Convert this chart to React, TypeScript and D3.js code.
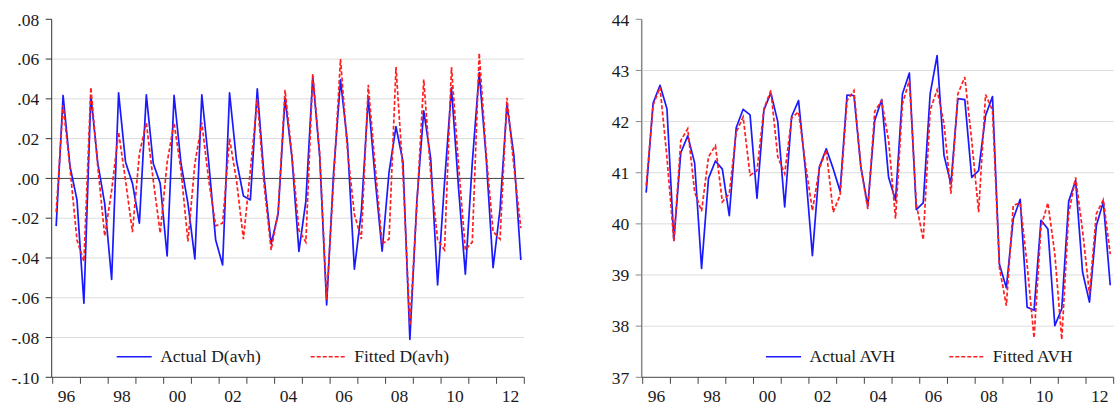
import React from "react";
import * as d3 from "d3";

// quarterly, 1996Q1 .. 2012Q4
const years = d3.range(1996, 2014);
const yearLabels = ["96", "98", "00", "02", "04", "06", "08", "10", "12"];

const actualD = [
  -0.024, 0.0417, 0.006, -0.0108, -0.0628, 0.0417, 0.0077, -0.0127, -0.0508,
  0.043, 0.0083, -0.0025, -0.0225, 0.042, 0.0075, -0.0025, -0.039, 0.0417,
  0.0075, -0.0125, -0.0405, 0.042, 0.008, -0.031, -0.0435, 0.043, 0.009,
  -0.0088, -0.0108, 0.045, 0.0, -0.033, -0.018, 0.0405, 0.0105, -0.0367,
  -0.0115, 0.0512, 0.011, -0.0636, 0.0028, 0.0495, 0.018, -0.0456, -0.017,
  0.0405, -0.0005, -0.0366, 0.0032, 0.026, 0.0085, -0.081, -0.012, 0.034,
  0.0102, -0.0536, -0.002, 0.0455, -0.004, -0.0482, 0.008, 0.0532, 0.0105,
  -0.0449, -0.0155, 0.0372, 0.0115, -0.041,
];

const fittedD = [
  -0.017, 0.0367, 0.005, -0.031, -0.0417, 0.0458, 0.006, -0.029, -0.006,
  0.0233, -0.001, -0.027, 0.0125, 0.028, -0.001, -0.0275, 0.008, 0.028,
  0.004, -0.0317, 0.0075, 0.028, -0.001, -0.0238, -0.0225, 0.02, -0.001,
  -0.0305, 0.004, 0.04, -0.004, -0.036, -0.017, 0.0445, 0.0117, -0.026,
  -0.032, 0.0525, 0.0125, -0.061, -0.001, 0.06, 0.014, -0.018, -0.0305,
  0.047, 0.006, -0.033, -0.0305, 0.056, 0.0025, -0.074, -0.014, 0.0497,
  0.0025, -0.031, -0.036, 0.056, 0.0075, -0.036, -0.032, 0.063, 0.0125,
  -0.0267, -0.0305, 0.0405, 0.006, -0.025,
];

const actualAVH = [
  40.61, 42.36, 42.71, 42.25, 39.68, 41.39, 41.72, 41.19, 39.13, 40.89, 41.23,
  41.07, 40.16, 41.88, 42.24, 42.13, 40.5, 42.23, 42.56, 42.0, 40.33, 42.1,
  42.41, 41.05, 39.38, 41.11, 41.47, 41.08, 40.64, 42.52, 42.51, 41.11, 40.34,
  42.02, 42.43, 40.91, 40.46, 42.54, 42.95, 40.28, 40.41, 42.54, 43.29, 41.34,
  40.78, 42.45, 42.43, 40.91, 41.04, 42.12, 42.49, 39.21, 38.75, 40.1, 40.48,
  38.37, 38.31, 40.07, 39.9, 38.01, 38.34, 40.44, 40.85, 39.06, 38.47, 39.97,
  40.43, 38.8,
];

const fittedAVH = [
  40.75, 42.32, 42.67, 41.3, 39.66, 41.63, 41.86, 40.62, 40.25, 41.31, 41.53,
  40.43, 40.59, 41.79, 42.09, 40.95, 41.04, 42.25, 42.61, 41.31, 40.98, 42.07,
  42.19, 41.17, 40.26, 41.08, 41.44, 40.23, 40.56, 42.41, 42.61, 41.11, 40.29,
  42.2, 42.41, 41.63, 40.1, 42.35, 42.8, 40.39, 39.69, 42.22, 42.62, 41.96,
  40.59, 42.54, 42.87, 41.63, 40.23, 42.53, 42.22, 39.15, 38.4, 40.36, 40.41,
  39.2, 37.77, 39.94, 40.41, 39.41, 37.74, 40.2, 40.91, 39.87, 38.63, 40.2,
  40.47, 39.41,
];

const dTicks = [0.08, 0.06, 0.04, 0.02, 0, -0.02, -0.04, -0.06, -0.08, -0.1];
const dTickLabels = [".08", ".06", ".04", ".02", ".00", "-.02", "-.04", "-.06", "-.08", "-.10"];
const avhTicks = [44, 43, 42, 41, 40, 39, 38, 37];
const avhTickLabels = ["44", "43", "42", "41", "40", "39", "38", "37"];

const FONT = "'Liberation Serif', 'Times New Roman', Times, serif";
const FS = 17.5;
const BLUE = "#1a1aff";
const RED = "#ff1f1f";
const top = 19.3;
const bottom = 377.3;

type PanelProps = {
  left: number;
  right: number;
  domain: [number, number];
  ticks: number[];
  tickLabels: string[];
  actual: number[];
  fitted: number[];
  actualName: string;
  fittedName: string;
  zeroLine?: boolean;
  axisColor: string;
  axisWidth: number;
  legendX: number[];
};

const Panel = (p: PanelProps) => {
  const n = p.actual.length;
  const x = d3.scaleLinear().domain([0, n]).range([p.left, p.right]);
  const y = d3.scaleLinear().domain(p.domain).range([bottom, top]);
  const line = d3
    .line<number>()
    .x((_, i) => x(i + 0.5))
    .y((d) => y(d));
  const ax = p.left - 1;
  const legendY = 356.7;

  return (
    <g>
      {/* grid */}
      {p.ticks.map((t, i) =>
        i === 0 || i === p.ticks.length - 1 ? null : (
          <line
            key={"g" + i}
            x1={ax}
            x2={p.right}
            y1={y(t)}
            y2={y(t)}
            stroke={p.zeroLine && t === 0 ? "#444" : "#dcdcdc"}
            strokeWidth={1}
          />
        )
      )}
      {/* y axis */}
      <line x1={ax} x2={ax} y1={top} y2={bottom} stroke={p.axisColor} strokeWidth={p.axisWidth} />
      {p.ticks.map((t, i) => (
        <g key={"t" + i}>
          <line x1={ax - 6} x2={ax} y1={y(t)} y2={y(t)} stroke={p.axisColor} strokeWidth={1} />
          <text
            x={ax - 12.5}
            y={y(t)}
            dy="0.36em"
            textAnchor="end"
            fontFamily={FONT}
            fontSize={FS}
            fill="#1a1a1a"
          >
            {p.tickLabels[i]}
          </text>
        </g>
      ))}
      {/* x axis */}
      <line x1={ax} x2={p.right} y1={bottom} y2={bottom} stroke="#444" strokeWidth={1} />
      {years.map((yr, i) => (
        <line
          key={"x" + yr}
          x1={x(i * 4)}
          x2={x(i * 4)}
          y1={bottom}
          y2={bottom + 6.5}
          stroke="#444"
          strokeWidth={1}
        />
      ))}
      {yearLabels.map((lab, i) => (
        <text
          key={"xl" + lab}
          x={x(i * 8 + 2)}
          y={402}
          textAnchor="middle"
          fontFamily={FONT}
          fontSize={FS}
          fill="#1a1a1a"
        >
          {lab}
        </text>
      ))}
      {/* series */}
      <path d={line(p.actual) || ""} fill="none" stroke={BLUE} strokeWidth={1.7} strokeLinejoin="round" />
      <path
        d={line(p.fitted) || ""}
        fill="none"
        stroke={RED}
        strokeWidth={1.7}
        strokeDasharray="4,2.2"
      />
      {/* legend */}
      <line x1={p.legendX[0]} x2={p.legendX[0] + 35} y1={legendY} y2={legendY} stroke={BLUE} strokeWidth={1.5} />
      <text x={p.legendX[0] + 43.5} y={362} fontFamily={FONT} fontSize={FS} fill="#1a1a1a">
        {p.actualName}
      </text>
      <line
        x1={p.legendX[1]}
        x2={p.legendX[1] + 35}
        y1={legendY}
        y2={legendY}
        stroke={RED}
        strokeWidth={1.5}
        strokeDasharray="4,2"
      />
      <text x={p.legendX[1] + 43.5} y={362} fontFamily={FONT} fontSize={FS} fill="#1a1a1a">
        {p.fittedName}
      </text>
    </g>
  );
};

export default function App() {
  return (
    <svg
      width={1115}
      height={406}
      style={{ position: "absolute", left: 0, top: 0, background: "#fff" }}
    >
      <Panel
        left={52.7}
        right={524.3}
        domain={[-0.1, 0.08]}
        ticks={dTicks}
        tickLabels={dTickLabels}
        actual={actualD}
        fitted={fittedD}
        actualName="Actual D(avh)"
        fittedName="Fitted D(avh)"
        zeroLine
        axisColor="#333"
        axisWidth={1}
        legendX={[116.7, 310.7]}
      />
      <Panel
        left={642.7}
        right={1113.7}
        domain={[37, 44]}
        ticks={avhTicks}
        tickLabels={avhTickLabels}
        actual={actualAVH}
        fitted={fittedAVH}
        actualName="Actual AVH"
        fittedName="Fitted AVH"
        axisColor="#888"
        axisWidth={1.5}
        legendX={[766, 949.3]}
      />
    </svg>
  );
}
